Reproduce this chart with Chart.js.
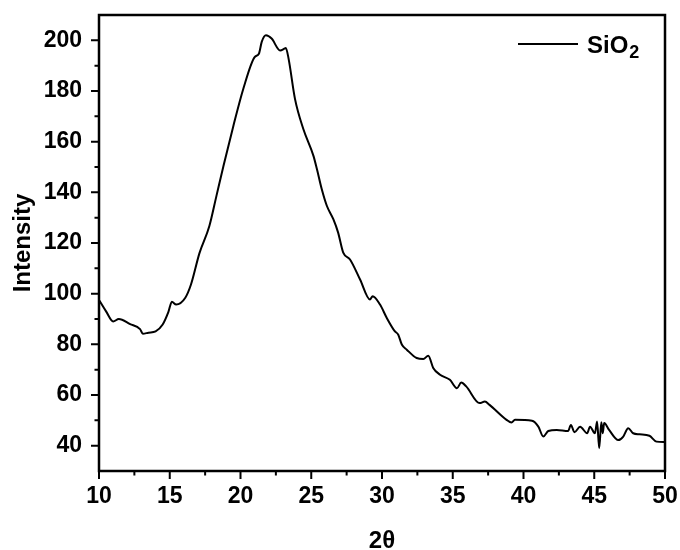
<!DOCTYPE html>
<html>
<head>
<meta charset="utf-8">
<script src="https://cdn.jsdelivr.net/npm/chart.js@4"></script>
<style>
  html, body { margin: 0; padding: 0; background: #fff; }
  #wrap { width: 680px; height: 550px; }
</style>
</head>
<body>
<div id="wrap"><canvas id="xrd" width="680" height="550"></canvas></div>
<script>
// ── Data ──────────────────────────────────────────────────────────────────────
const twoTheta = [
  10, 10.5, 11, 11.4, 12.2, 12.9, 13.1, 13.5, 14, 14.5, 14.9, 15.15, 15.45, 16.1, 16.5,
  17.1, 17.8, 18.3, 18.8, 19.5, 20.2, 21.0, 21.3, 21.5, 21.8, 22.2, 22.8, 23.1, 23.2, 23.4,
  23.85, 24.44, 25.15, 25.4, 25.74, 26.1, 26.56, 26.9, 27.26, 27.74, 28.45, 29.15, 29.34, 29.86, 30.33,
  30.9, 31.15, 31.4, 31.75, 32.45, 32.92, 33.27, 33.62, 34.1, 34.8, 35.3, 35.6, 35.95, 36.9, 37.27,
  37.6, 38.8, 39.15, 39.4, 40.6, 41.05, 41.4, 41.75, 42.35, 43.15,
  43.35, 43.6, 44.0, 44.5, 44.7, 45.05, 45.2, 45.35, 45.5, 45.6, 45.7, 46.05, 46.7, 47.05, 47.4,
  47.75, 48.2, 48.9, 49.4, 50
];
const intensity = [
  97.5, 93, 89, 90, 88, 86, 84.2, 84.6, 85.1, 87.8, 92.7, 96.8, 95.7, 98.4, 103.6,
  116, 126.7, 138.6, 150.5, 166.3, 180.9, 193.4, 194.7, 199.4, 202, 200.7, 196, 196.7, 197, 192.7,
  176.9, 165, 154.5, 149.2, 141.3, 134.7, 129.4, 124.1, 116.2, 113.5, 105.6, 97.7, 99, 95.7, 90.5,
  85.2, 83.8, 79.9, 77.9, 74.6, 74.2, 75.5, 70.7, 68, 66, 62.7, 64.9, 63.4, 56.8, 57.4,
  56.1, 50.2, 49.1, 50.2, 49.8, 47.5, 43.6, 45.8, 46.2, 45.8,
  48.2, 45.3, 47.5, 44.9, 47.5, 44.9, 49.5, 39, 49.2, 44.9, 48.9, 46.2, 42.2, 43.6, 46.9,
  44.9, 44.5, 43.9, 41.6, 41.4
];
const seriesName = "SiO";
const seriesSub  = "2";

const xTicks      = [10, 15, 20, 25, 30, 35, 40, 45, 50];
const xMinorTicks = [12.5, 17.5, 22.5, 27.5, 32.5, 37.5, 42.5, 47.5];
const yTicks      = [40, 60, 80, 100, 120, 140, 160, 180, 200];
const yMinorTicks = [50, 70, 90, 110, 130, 150, 170, 190];

const FONT = "'Liberation Sans', Arial, sans-serif";

// ── Frame, tick marks and legend ──────────────────────────────────────────────
const framePlugin = {
  id: "frame",
  afterDraw(chart) {
    const { ctx, chartArea: a, scales: { x, y } } = chart;
    ctx.save();
    ctx.strokeStyle = "#000";
    ctx.lineWidth = 2.5;
    ctx.strokeRect(a.left, a.top, a.right - a.left, a.bottom - a.top);

    ctx.lineWidth = 2;
    ctx.beginPath();
    xTicks.forEach(v => { const p = x.getPixelForValue(v); ctx.moveTo(p, a.bottom); ctx.lineTo(p, a.bottom + 8); });
    xMinorTicks.forEach(v => { const p = x.getPixelForValue(v); ctx.moveTo(p, a.bottom); ctx.lineTo(p, a.bottom + 4.5); });
    yTicks.forEach(v => { const p = y.getPixelForValue(v); ctx.moveTo(a.left, p); ctx.lineTo(a.left - 8, p); });
    yMinorTicks.forEach(v => { const p = y.getPixelForValue(v); ctx.moveTo(a.left, p); ctx.lineTo(a.left - 4.5, p); });
    ctx.stroke();

    // legend
    ctx.lineWidth = 2;
    ctx.beginPath();
    ctx.moveTo(518, 44); ctx.lineTo(578, 44);
    ctx.stroke();
    ctx.fillStyle = "#000";
    ctx.textBaseline = "alphabetic";
    ctx.textAlign = "left";
    ctx.font = "bold 24px " + FONT;
    ctx.fillText(seriesName, 587, 53);
    const w = ctx.measureText(seriesName).width;
    ctx.font = "bold 18px " + FONT;
    ctx.fillText(seriesSub, 587 + w + 1, 58);
    ctx.restore();
  },
};

new Chart(document.getElementById("xrd"), {
  type: "line",
  data: {
    datasets: [{
      label: seriesName + seriesSub,
      data: twoTheta.map((t, i) => ({ x: t, y: intensity[i] })),
      borderColor: "#000",
      borderWidth: 2,
      pointRadius: 0,
      cubicInterpolationMode: "monotone",
      fill: false,
    }],
  },
  options: {
    responsive: false,
    animation: false,
    layout: { padding: { top: 15, right: 15, left: 0, bottom: 0 } },
    plugins: { legend: { display: false }, tooltip: { enabled: false } },
    scales: {
      x: {
        type: "linear",
        min: 10, max: 50,
        afterBuildTicks: s => { s.ticks = xTicks.map(v => ({ value: v })); },
        afterFit: s => { s.height = 79; s.paddingLeft = 0; s.paddingRight = 0; },
        grid: { display: false, drawTicks: false },
        border: { display: false },
        ticks: { color: "#000", padding: 12, maxRotation: 0, font: { family: FONT, size: 23, weight: "bold" } },
        title: { display: true, text: "2θ", color: "#000", padding: 0,
                 font: { family: FONT, size: 24, weight: "bold", lineHeight: 0.75 } },
      },
      y: {
        min: 30, max: 210,
        afterBuildTicks: s => { s.ticks = yTicks.map(v => ({ value: v })); },
        afterFit: s => { s.width = 99; s.paddingTop = 0; s.paddingBottom = 0; },
        grid: { display: false, drawTicks: false },
        border: { display: false },
        ticks: { color: "#000", padding: 17, font: { family: FONT, size: 23, weight: "bold" } },
        title: { display: true, text: "Intensity", color: "#000", padding: { top: 14, bottom: 0 },
                 font: { family: FONT, size: 24, weight: "bold", lineHeight: 0.75 } },
      },
    },
  },
  plugins: [framePlugin],
});
</script>
</body>
</html>
